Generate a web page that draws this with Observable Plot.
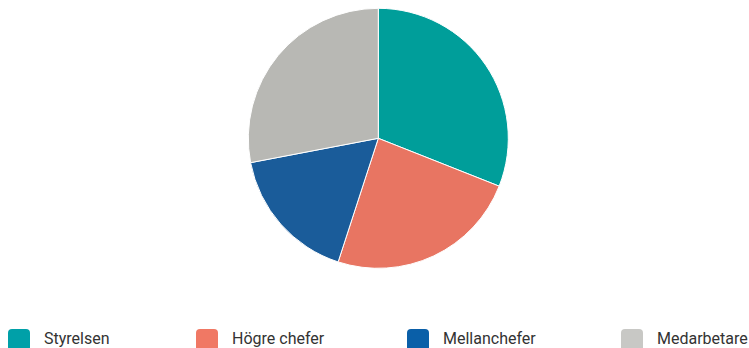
<!DOCTYPE html>
<html>
<head>
<meta charset="utf-8">
<script src="https://cdn.jsdelivr.net/npm/d3@7"></script>
<script src="https://cdn.jsdelivr.net/npm/@observablehq/plot@0.6"></script>
<style>
  html, body { margin: 0; padding: 0; background: #fff; }
  #wrap { position: relative; width: 749px; height: 348px; overflow: hidden; font-family: Roboto, "Noto Sans", sans-serif; }
  #chart { position: absolute; left: 0; top: 0; }
  .item { position: absolute; top: 329px; height: 30px; }
  .sw { position: absolute; left: 0; top: 0; width: 22px; height: 22px; border-radius: 4px; }
  .lab { position: absolute; left: 36px; top: 0px; font-size: 16px; color: #333; white-space: nowrap; }
</style>
</head>
<body>
<div id="wrap"><div id="chart"></div></div>
<script>
const categories = ["Styrelsen", "Högre chefer", "Mellanchefer", "Medarbetare"];
const values = [31, 24, 17, 28];
const sliceColors = ["#009e9a", "#e87562", "#1a5c9a", "#b8b8b4"];
const legendColors = ["#00a0a8", "#f07864", "#0a5fa8", "#c8c8c5"];
const legendX = [8, 196, 407, 621];

const data = categories.map((c, i) => ({category: c, value: values[i]}));

const W = 749, H = 300;
const cx = 378.3, cy = 138.3, R = 130;

const pieMark = (index, scales, channels, dimensions) => {
  const pie = d3.pie().sort(null).value(d => d.value)(data);
  const arc = d3.arc().innerRadius(0).outerRadius(R);
  const g = d3.create("svg:g").attr("transform", `translate(${cx},${cy})`);
  g.selectAll("path").data(pie).join("path")
    .attr("d", arc)
    .attr("fill", d => scales.color ? scales.color(d.data.category) : sliceColors[d.index])
    .attr("stroke", "#fff")
    .attr("stroke-width", 1);
  return g.node();
};

const chart = Plot.plot({
  width: W,
  height: H,
  margin: 0,
  x: {axis: null, domain: [0, W]},
  y: {axis: null, domain: [0, H]},
  color: {domain: categories, range: sliceColors},
  marks: [
    Plot.dot(data, {x: 0, y: 0, r: 0, fill: "category"}),
    pieMark
  ]
});
document.getElementById("chart").appendChild(chart);

const wrap = document.getElementById("wrap");
categories.forEach((c, i) => {
  const it = document.createElement("div");
  it.className = "item";
  it.style.left = legendX[i] + "px";
  it.innerHTML = `<div class="sw" style="background:${legendColors[i]}"></div><div class="lab">${c}</div>`;
  wrap.appendChild(it);
});
</script>
</body>
</html>
